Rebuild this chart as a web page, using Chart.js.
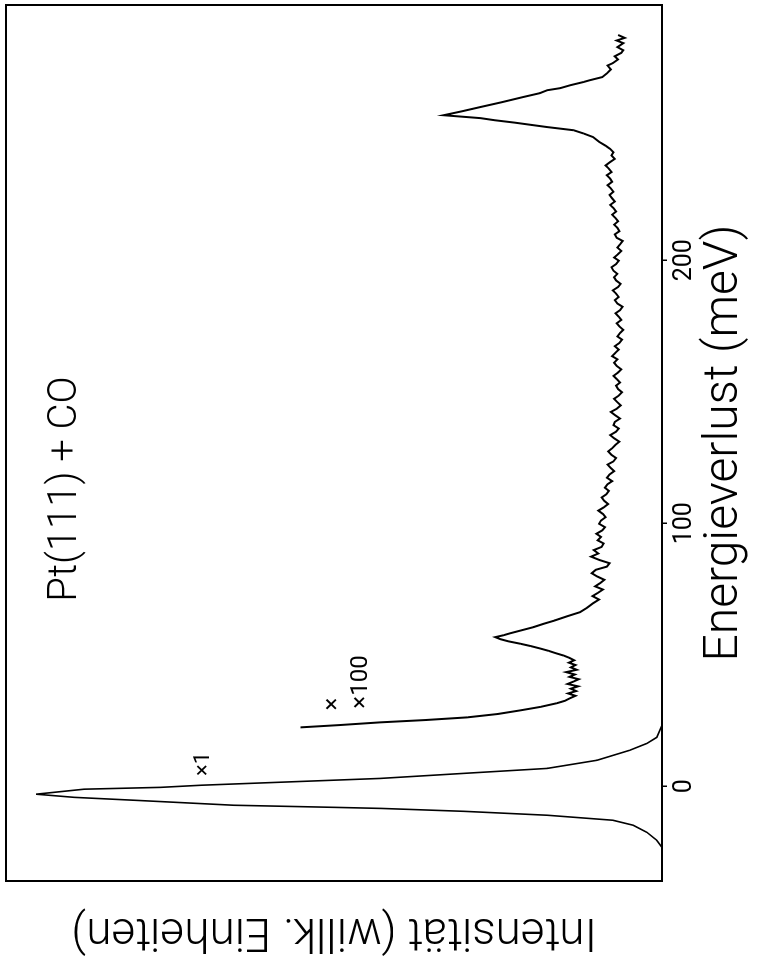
<!DOCTYPE html>
<html>
<head>
<meta charset="utf-8">
<script src="https://cdn.jsdelivr.net/npm/chart.js@4.4.0/dist/chart.umd.min.js"></script>
<style>
  html, body { margin: 0; padding: 0; background: #fff; overflow: hidden; }
  /* the scanned figure is turned 90 degrees anticlockwise */
  #wrap {
    position: absolute; left: 0; top: 0;
    width: 959px; height: 764px;
    transform-origin: 0 0;
    transform: translate(0, 959px) rotate(-90deg);
  }
</style>
</head>
<body>
<div id="wrap"><canvas id="c" width="959" height="764"></canvas></div>
<script>
const energyTicks = [0, 100, 200];

// elastic peak (x1): [energy loss meV, intensity]
const elasticPeak = [
  [-36, 0], [-23.2, 0], [-20.5, 0.8], [-17.5, 2.3], [-14.8, 4.4], [-12.9, 7.5], [-11.0, 17.5],
  [-9.5, 30.3], [-8.4, 42.9], [-8.0, 50], [-7.2, 65.3], [-5.3, 80.5], [-4.2, 89.6], [-3.0, 95.4],
  [-1.1, 88.1], [-0.4, 76.4], [0.4, 70.3], [3.0, 42.9], [4.9, 30.3], [6.8, 17.5], [9.9, 9.9],
  [13.7, 4.9], [16.3, 2.3], [18.6, 0.8], [23.2, 0]
];

// loss spectrum (x100): [energy loss meV, intensity]
const lossSpectrum = [
  [22.4, 55.1], [23.3, 49.0], [24.3, 43.0], [25.2, 36.0], [26.2, 29.7], [27.5, 25.0], [28.9, 21.5],
  [30.2, 18.5], [31.6, 16.0], [32.5, 14.8], [33.5, 14.0], [34.4, 13.2], [35.3, 14.3], [36.2, 13.1],
  [37.1, 13.9], [38.0, 12.8], [38.9, 14.4], [39.8, 13.5], [40.7, 12.7], [41.6, 14.1], [42.5, 13.3],
  [43.4, 14.6], [44.3, 13.0], [45.2, 13.9], [46.1, 13.2], [47.0, 14.2], [47.9, 13.4], [48.8, 14.1],
  [49.7, 15.0], [50.6, 16.2], [51.5, 17.3], [52.4, 18.6], [53.3, 20.0], [54.2, 21.6], [55.1, 23.4],
  [55.9, 24.6], [56.7, 25.4], [57.4, 24.2], [58.2, 23.1], [59.3, 21.4], [60.5, 19.6], [61.8, 18.0],
  [63.0, 16.4], [64.6, 14.5], [66.2, 12.5], [67.9, 11.4], [69.6, 10.5],
  [71.0, 9.6], [72.3, 10.6], [73.5, 9.8], [74.8, 9.0], [76.0, 10.2], [77.3, 9.4], [78.5, 8.8],
  [79.8, 9.9], [81.0, 10.7], [82.3, 10.1], [83.5, 8.4], [84.8, 8.0], [86.0, 9.5], [87.3, 10.8],
  [88.5, 9.7], [89.8, 10.4], [91.0, 9.2], [92.3, 8.9], [93.5, 9.8], [94.8, 9.3], [96.0, 10.0],
  [97.3, 9.1], [98.5, 8.7], [99.8, 9.6], [101.0, 9.3], [102.3, 8.6], [103.5, 9.0], [104.8, 9.7],
  [106.0, 8.9], [107.3, 8.2], [108.5, 8.8], [109.8, 9.2], [111.0, 8.5], [112.3, 8.1], [113.5, 8.7],
  [114.8, 8.3], [116.0, 7.6], [117.3, 8.4], [118.5, 8.0], [119.8, 7.3], [121.0, 7.8], [122.3, 8.3],
  [123.5, 7.4], [124.8, 7.0], [126.0, 7.7], [127.3, 8.2], [128.5, 7.6], [129.8, 7.1], [131.0, 6.5],
  [132.3, 7.3], [133.5, 7.9], [134.8, 7.0], [136.0, 6.6], [137.3, 7.4], [138.5, 7.2], [139.8, 6.4],
  [141.0, 7.1], [142.3, 7.8], [143.5, 6.9], [144.8, 6.3], [146.0, 6.8], [147.3, 7.3], [148.5, 6.6],
  [149.8, 6.1], [151.0, 6.7], [152.3, 7.0], [153.5, 6.4], [154.8, 6.9], [156.0, 7.4], [157.3, 6.7],
  [158.5, 6.2], [159.8, 6.9], [161.0, 7.3], [162.3, 6.8], [163.5, 7.6], [164.8, 7.1], [166.0, 6.6],
  [167.3, 7.2], [168.5, 6.5], [169.8, 6.1], [171.0, 6.8], [172.3, 6.4], [173.5, 5.9], [174.8, 6.5],
  [176.0, 6.9], [177.3, 6.2], [178.5, 6.6], [179.8, 7.1], [181.0, 6.4], [182.3, 6.0], [183.5, 6.8],
  [184.8, 7.2], [186.0, 6.6], [187.3, 7.0], [188.5, 7.5], [189.8, 6.7], [191.0, 6.3], [192.3, 7.0],
  [193.5, 7.3], [194.8, 6.8], [196.0, 7.4], [197.3, 7.7], [198.5, 7.0], [199.8, 6.6], [201.0, 7.3],
  [202.3, 6.7], [203.5, 6.2], [204.8, 6.8], [206.0, 6.4], [207.3, 6.0], [208.5, 6.9], [209.8, 7.2],
  [211.0, 6.5], [212.3, 6.8], [213.5, 7.3], [214.8, 6.7], [216.0, 7.1], [217.3, 7.6], [218.5, 7.0],
  [219.8, 7.4], [221.0, 7.9], [222.3, 7.2], [223.5, 7.6], [224.8, 8.0], [226.0, 7.4], [227.3, 7.8],
  [228.5, 8.3], [229.8, 7.6], [231.0, 7.9], [232.3, 8.4], [233.5, 7.7], [234.8, 8.1], [236.0, 8.6],
  [237.3, 7.9], [238.5, 7.2], [239.8, 7.7], [241.0, 7.4], [242.3, 7.9], [243.5, 8.6],
  [245.0, 9.6], [246.8, 10.5], [248.2, 12.0], [249.4, 13.5], [250.6, 17.5], [252.3, 22.5],
  [253.2, 25.5], [254.0, 27.7], [255.1, 33.3], [256.6, 30.5], [258.2, 27.7], [260.0, 24.5],
  [262.0, 21.2], [263.5, 18.6], [264.6, 17.5], [265.4, 15.5], [266.5, 14.0], [267.7, 12.0],
  [268.4, 11.0], [269.6, 9.1], [271.0, 8.4], [272.5, 7.8], [274.0, 8.3], [274.9, 7.5], [276.3, 6.7],
  [277.5, 7.2], [278.8, 6.2], [279.8, 5.9], [281.0, 6.8], [282.5, 5.9], [283.5, 6.9], [284.5, 5.7],
  [285.6, 6.7]
];

const toXY = pts => pts.map(p => ({ x: p[0], y: p[1] }));

const FONT = 'Roboto, "Liberation Sans", Arial, sans-serif';

const framePlugin = {
  id: 'frame',
  afterDraw(chart) {
    const { ctx, chartArea: a } = chart;
    ctx.save();
    ctx.strokeStyle = '#000';
    ctx.lineWidth = 2;
    ctx.strokeRect(a.left, a.top, a.right - a.left, a.bottom - a.top);
    ctx.restore();
  }
};

const notesPlugin = {
  id: 'notes',
  afterDatasetsDraw(chart) {
    const ctx = chart.ctx;
    ctx.save();
    ctx.fillStyle = '#000';
    ctx.textAlign = 'center';
    ctx.textBaseline = 'middle';
    ctx.font = '300 40px ' + FONT;
    ctx.fillText('Pt(111) + CO', 470, 66);
    ctx.font = '22px ' + FONT;
    ctx.fillText('×1', 195, 203);
    ctx.font = '24px ' + FONT;
    ctx.fillText('×', 255, 333);
    ctx.fillText('×100', 277, 361);
    ctx.restore();
  }
};

new Chart(document.getElementById('c'), {
  type: 'line',
  data: {
    datasets: [
      { data: toXY(elasticPeak), borderColor: '#000', borderWidth: 1.6, pointRadius: 0, tension: 0 },
      { data: toXY(lossSpectrum), borderColor: '#000', borderWidth: 2, pointRadius: 0, tension: 0 }
    ]
  },
  options: {
    responsive: false,
    animation: false,
    devicePixelRatio: 1,
    layout: { padding: { left: 0, right: 5, top: 6, bottom: 0 } },
    plugins: { legend: { display: false }, tooltip: { enabled: false } },
    scales: {
      x: {
        type: 'linear',
        min: -36,
        max: 297,
        afterFit: s => { s.height = 102; },
        afterBuildTicks: s => { s.ticks = energyTicks.map(v => ({ value: v })); },
        border: { display: false },
        grid: { drawOnChartArea: false, drawTicks: true, tickLength: 5, color: '#000', lineWidth: 1.5 },
        ticks: { color: '#000', padding: 3, maxRotation: 0, font: { family: FONT, size: 25 } },
        title: {
          display: true,
          text: 'Energieverlust (meV)',
          color: '#000',
          padding: { top: 0, bottom: 10 },
          font: { family: FONT, size: 48, weight: 300 }
        }
      },
      y: {
        min: 0,
        max: 100,
        afterFit: s => { s.width = 78; },
        border: { display: false },
        grid: { display: false },
        ticks: { display: false },
        title: {
          display: true,
          text: 'Intensität (willk. Einheiten)',
          color: '#000',
          padding: { top: 1, bottom: 0 },
          font: { family: FONT, size: 46, weight: 300 }
        }
      }
    }
  },
  plugins: [framePlugin, notesPlugin]
});
</script>
</body>
</html>
